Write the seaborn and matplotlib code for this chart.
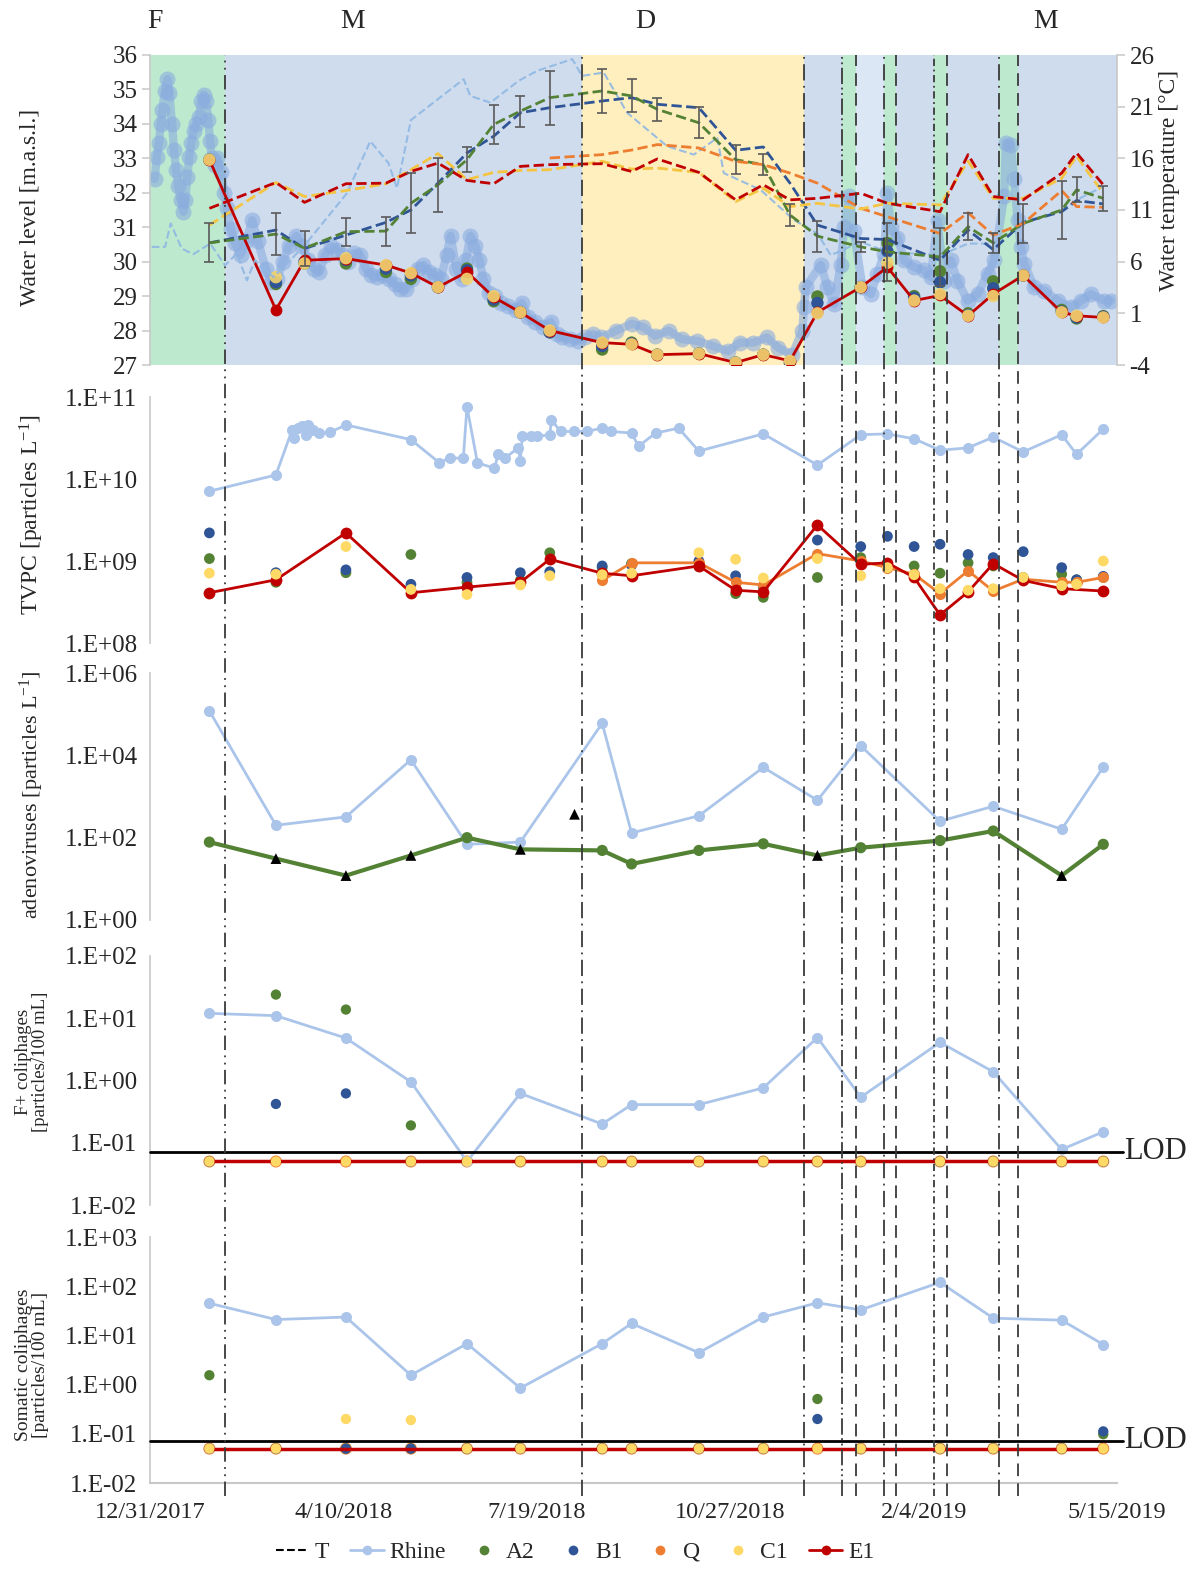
import numpy as np
import pandas as pd
import matplotlib
matplotlib.use("Agg")
import matplotlib.pyplot as plt
import seaborn as sns
from matplotlib.lines import Line2D
from matplotlib import transforms, ticker

sns.set_style("white")
plt.rcParams["font.family"] = ["Liberation Serif", "DejaVu Serif"]
plt.rcParams["mathtext.fontset"] = "custom"
plt.rcParams["mathtext.rm"] = "Liberation Serif"
plt.rcParams["mathtext.default"] = "regular"
plt.rcParams["axes.unicode_minus"] = False

START = pd.Timestamp("2017-12-31")   # all *_day values are days after this date

# ---------------- phases / boundaries ----------------
phase_labels = ["F", "M", "D", "M"]
phase_label_day = [2.5, 104.5, 256.0, 463.0]
main_spans = [(0.0, 38.8, "F"), (38.8, 223.6, "M"), (223.6, 338.2, "D"), (338.2, 500.0, "M"),
              (365.0, 379.6, "L"), (357.7, 365.0, "F"), (379.6, 385.6, "F"),
              (405.2, 411.9, "F"), (439.1, 448.6, "F")]
boundary_day = [38.8, 223.6, 338.2, 357.7, 365.0, 379.6, 385.6, 405.2, 411.9, 439.1, 448.6]

# ---------------- panel 1: Rhine water level (m a.s.l.) ----------------
rhine_lvl_day = [2.4, 3.6, 4.6, 5.6, 6.4, 7.6, 9.0, 10.0, 11.4, 12.4, 13.5, 14.5, 15.9, 17.3, 18.3, 19.3,
                 20.3, 21.3, 22.5, 23.9, 25.3, 26.5, 27.9, 29.1, 30.1, 31.1, 31.9, 33.5, 34.9, 36.9, 38.4,
                 39.8, 41.8, 43.8, 46.8, 49.8, 52.8, 55.8, 59.8, 62.8, 65.7, 68.7, 71.7, 75.7, 78.7, 81.7,
                 84.7, 87.6, 90.6, 93.6, 96.6, 99.6, 102.6, 105.6, 108.6, 111.6, 114.5, 117.5, 120.5, 123.5,
                 126.5, 129.5, 132.5, 135.5, 138.4, 141.4, 144.4, 147.4, 150.4, 153.4, 155.4, 158.4, 161.4,
                 163.3, 165.7, 168.3, 170.3, 172.3, 175.3, 178.3, 181.3, 185.3, 189.2, 192.2, 195.2, 199.2,
                 203.2, 207.2, 210.2, 213.2, 217.2, 221.1, 225.1, 229.1,
                 233.2, 241.2, 249.1, 255.1, 261.1, 268.1, 275.0, 283.0, 291.0, 299.0, 305.0, 311.9, 318.9,
                 324.9, 332.1, 337.3, 338.1, 339.0, 346.8, 350.3, 353.7, 357.1, 358.9, 361.4, 363.9, 368.4,
                 372.7, 376.1, 379.6, 381.3, 383.0, 386.5, 389.9, 395.1, 400.3, 403.7, 407.2, 410.6, 414.1,
                 417.5, 422.7, 427.9, 433.1, 436.5, 441.7, 442.5, 445.1, 446.8, 448.6, 450.3, 452.0, 457.2,
                 462.4, 469.3, 476.2, 481.4, 486.5, 493.4, 496.9]
rhine_lvl = [32.4, 33.05, 33.45, 34.0, 34.4, 34.95, 35.3, 34.9, 34.0, 33.25, 32.65, 32.2, 31.8, 31.45, 31.8, 32.45,
             33.05, 33.45, 33.8, 34.0, 34.2, 34.65, 34.85, 34.65, 34.1, 33.5, 33.0, 32.8, 33.0, 32.6, 32.0,
             31.55, 30.95, 30.55, 30.2, 30.6, 31.2, 30.6, 29.8, 29.4, 29.5, 30.0, 30.45, 30.75, 30.45, 30.05,
             29.8, 29.7, 30.2, 30.45, 30.35, 30.2, 30.0, 30.25, 30.2, 29.8, 29.6, 29.55, 29.6, 29.5,
             29.35, 29.2, 29.2, 29.5, 29.8, 29.9, 29.7, 29.6, 29.5, 30.2, 30.75, 29.8, 29.5,
             30.05, 30.75, 30.45, 30.05, 29.5, 29.1, 29.0, 28.8, 28.7, 28.6, 28.8, 28.4, 28.25,
             28.1, 28.25, 27.9, 27.8, 27.75, 27.7, 27.8, 27.9,
             27.8, 28.0, 28.2, 28.1, 27.85, 28.0, 27.75, 27.7, 27.55, 27.4, 27.65, 27.65, 27.8,
             27.5, 27.3, 28.0, 28.67, 29.26, 29.9, 29.26, 28.77, 29.9, 31.0, 31.9, 30.9, 29.26,
             29.06, 29.65, 30.23, 32.0, 31.0, 30.7, 30.04, 29.84, 29.75, 29.55, 31.2, 29.45, 30.04,
             29.45, 28.87, 29.06, 29.65, 30.04, 31.9, 33.45, 33.4, 32.4, 31.2, 30.43, 29.94, 29.26,
             29.16, 28.87, 28.67, 28.87, 29.06, 28.87, 28.87]

# water level at the sampling sites
lvl_day = [30.7, 65.1, 79.9, 101.3, 122.0, 134.9, 148.9, 163.9, 177.7, 191.5, 206.7, 233.8, 249.0, 262.3,
           283.8, 302.8, 317.1, 330.9, 345.1, 367.5, 381.3, 395.1, 408.5, 423.0, 436.0, 451.5, 471.4, 479.1, 492.9]
lvl_e1 = [32.96, 28.6, 30.04, 30.09, 29.9, 29.67, 29.26, 29.7, 28.97, 28.53, 28.0, 27.65, 27.6, 27.3, 27.33,
          27.07, 27.3, 27.12, 28.53, 29.26, 29.84, 28.87, 29.02, 28.43, 29.06, 29.6, 28.53, 28.43, 28.38]
lvl_a2 = [32.96, 29.35, 29.95, 29.95, 29.7, 29.5, 29.26, 29.8, 28.85, 28.53, 27.95, 27.45, 27.65, 27.3, 27.33,
          27.07, 27.3, 27.05, 28.99, 29.26, 30.54, 29.0, 29.72, 28.5, 29.43, 29.6, 28.6, 28.35, 28.42]
lvl_b1 = [32.96, 29.4, 30.0, 30.05, 29.8, 29.6, 29.26, 29.75, 28.9, 28.53, 27.95, 27.55, 27.62, 27.3, 27.33,
          27.07, 27.3, 27.08, 28.8, 29.26, 30.3, 28.95, 29.4, 28.45, 29.23, 29.6, 28.55, 28.38, 28.4]
lvl_c1 = [32.96, 29.55, 29.95, 30.1, 29.9, 29.67, 29.26, 29.5, 29.0, 28.53, 28.0, 27.65, 27.6, 27.3, 27.33,
          27.07, 27.3, 27.12, 28.5, 29.26, 29.97, 28.87, 29.06, 28.43, 29.0, 29.6, 28.53, 28.43, 28.38]

# water temperature (deg C)
temp_day = [30.7, 65.1, 79.9, 101.3, 122.0, 134.9, 148.9, 163.9, 177.7, 191.5, 206.7, 233.8, 249.0, 262.3,
            283.8, 302.8, 317.1, 330.9, 345.1, 367.5, 381.3, 408.5, 423.0, 436.0, 451.5, 471.4, 479.1, 492.9]
temp_e1 = [11.16, 13.66, 11.74, 13.54, 13.6, 14.73, 15.54, 13.86, 13.54, 15.22, 15.39, 15.48, 14.73, 15.94,
           14.64, 11.98, 13.44, 11.98, 12.13, 12.62, 11.65, 10.84, 16.36, 12.3, 11.98, 14.57, 16.52, 13.44]
temp_c1 = [9.54, 13.66, 12.3, 12.88, 13.54, 14.9, 16.46, 13.93, 14.64, 14.83, 14.9, 15.71, 14.96, 15.06,
           14.64, 11.81, 13.11, 11.33, 11.65, 11.1, 11.65, 11.49, 15.71, 12.13, 12.13, 14.08, 16.2, 12.62]
temp_b1 = [7.82, 9.06, 7.27, 8.57, 9.8, 11.0, 13.6, 16.52, 18.14, 20.41, 20.9, 21.55, 21.87, 21.23,
           20.9, 16.78, 17.1, 13.6, 9.54, 8.24, 8.14, 6.14, 9.06, 7.17, 9.8, 10.84, 11.91, 11.59]
temp_a2 = [7.82, 8.67, 7.3, 8.9, 8.96, 11.65, 13.44, 15.87, 19.28, 20.57, 21.87, 22.52, 22.04, 20.74,
           19.44, 15.87, 15.39, 10.52, 8.47, 7.43, 6.95, 6.46, 9.38, 7.82, 9.7, 11.0, 12.95, 12.13]
temp_a2_err = [1.9, 2.0, 1.7, 1.35, 1.4, 2.9, 2.6, 1.2, 1.9, 1.5, 2.6, 2.1, 1.6, 1.1,
               1.5, 1.4, 1.0, 1.1, 1.5, 0.5, 2.8, 2.8, 1.3, 1.0, 1.9, 2.8, 1.2, 1.2]
temp_q_day = [206.7, 233.8, 249.0, 262.3, 283.8, 302.8, 317.1, 330.9, 345.1, 367.5, 381.3, 408.5, 423.0,
              436.0, 451.5, 471.4, 479.1, 492.9]
temp_q = [16.03, 16.36, 16.8, 17.33, 17.0, 15.71, 15.39, 14.57, 13.6, 11.16, 10.35, 8.73, 10.74,
          8.57, 9.7, 12.88, 11.33, 11.26]
temp_rhine_day = [0.9, 4.3, 7.8, 10.7, 16.4, 22.4, 31.1, 38.8, 44.9, 50.1, 54.3, 63.8, 79.3, 101.8, 113.9,
                  123.3, 127.7, 134.9, 162.2, 165.6, 176.0, 190.6, 200.2, 218.3, 223.4, 234.6, 246.7, 267.4,
                  281.2, 293.3, 296.7, 315.7, 333.0, 345.1, 352.0, 367.5, 381.3, 408.5, 423.0, 436.0, 451.5,
                  471.4, 479.1, 492.9]
temp_rhine = [7.43, 7.43, 7.43, 9.7, 7.27, 6.72, 7.75, 5.65, 6.78, 4.19, 6.14, 4.51, 7.43, 12.62, 17.66,
              15.54, 13.11, 19.7, 23.66, 22.04, 21.39, 23.5, 24.47, 25.6, 23.98, 24.3, 20.41, 17.17,
              16.36, 17.98, 14.57, 12.95, 10.03, 8.73, 6.62, 7.92, 6.95, 6.62, 7.75, 7.75, 9.7,
              11.0, 11.98, 13.27]

# ---------------- panel 2: TVPC (particles/L) ----------------
tvpc_day = [30.7, 65.1, 101.3, 134.9, 163.9, 191.5, 206.7, 233.8, 249.0, 283.8, 302.8, 317.1, 345.1, 367.5,
            381.3, 395.1, 408.5, 423.0, 436.0, 451.5, 471.4, 479.1, 492.9]
tvpc_e1 = [4.1e8, 5.9e8, 2.2e9, 4.1e8, 4.8e8, 5.5e8, 1.05e9, 7.1e8, 6.6e8, 8.7e8, 4.4e8, 4.2e8, 2.75e9, 9.1e8,
           9.5e8, 6.3e8, 2.2e8, 4.2e8, 9.3e8, 5.8e8, 4.6e8, np.nan, 4.3e8]
tvpc_q = [np.nan] * 7 + [5.8e8, 9.5e8, 9.5e8, 5.5e8, 5.1e8, 1.23e9, 1.0e9, 8.3e8, 6.9e8, 4.0e8, 7.6e8, 4.3e8,
                         6.0e8, 5.5e8, 5.5e8, 6.3e8]
tvpc_a2 = [1.07e9, 5.5e8, 7.2e8, 1.2e9, 5.5e8, 5.8e8, 1.26e9, 8.3e8, 9.3e8, 8.5e8, 4.0e8, 3.6e8, 6.3e8, 1.1e9,
           8.9e8, 8.7e8, 7.1e8, 9.5e8, 8.7e8, 6.3e8, 6.9e8, 5.9e8, 6.3e8]
tvpc_b1 = [2.2e9, 7.2e8, 7.8e8, 5.2e8, 6.3e8, 7.2e8, 7.4e8, 8.7e8, 8.9e8, 1.0e9, 6.6e8, 4.8e8, 1.8e9, 1.5e9,
           2.0e9, 1.5e9, 1.6e9, 1.2e9, 1.1e9, 1.3e9, 8.3e8, 5.9e8, 6.5e8]
tvpc_c1 = [7.1e8, 6.9e8, 1.5e9, 4.5e8, 3.9e8, 5.1e8, 6.6e8, 6.8e8, 7.1e8, 1.26e9, 1.05e9, 6.2e8, 1.07e9, 6.6e8,
           8.3e8, 6.8e8, 4.6e8, 4.4e8, 4.6e8, 6.3e8, 5.0e8, 5.2e8, 1.0e9]
tvpc_rhine_day = [30.7, 65.1, 73.5, 74.5, 76.6, 78.7, 80.7, 81.8, 84.4, 87.5, 93.2, 101.3, 134.9, 149.6, 155.3,
                  162.0, 163.9, 169.3, 178.1, 180.1, 183.7, 190.5, 191.5, 192.5, 197.2, 200.3, 206.7, 207.6,
                  212.3, 219.0, 225.7, 233.8, 238.6, 249.0, 252.6, 261.4, 273.3, 283.8, 317.1, 345.1, 367.5,
                  381.3, 395.1, 408.5, 423.0, 436.0, 451.5, 471.4, 479.1, 492.9]
tvpc_rhine = [7.1e9, 1.12e10, 3.98e10, 3.16e10, 4.17e10, 4.37e10, 3.47e10, 4.57e10, 3.98e10, 3.63e10, 3.72e10,
              4.57e10, 3.02e10, 1.58e10, 1.82e10, 1.78e10, 7.59e10, 1.58e10, 1.35e10, 2.04e10, 1.82e10, 2.4e10,
              1.66e10, 3.39e10, 3.31e10, 3.31e10, 3.47e10, 5.25e10, 3.8e10, 3.8e10, 3.8e10, 4.17e10, 3.8e10,
              3.63e10, 2.51e10, 3.63e10, 4.17e10, 2.19e10, 3.55e10, 1.48e10, 3.47e10, 3.55e10, 3.09e10,
              2.24e10, 2.4e10, 3.24e10, 2.14e10, 3.47e10, 2.0e10, 4.07e10]

# ---------------- panels 3-5 (16 sampling campaigns) ----------------
sample_day = [30.7, 65.1, 101.3, 134.9, 163.9, 191.5, 233.8, 249.0, 283.8, 317.1, 345.1, 367.5, 408.5, 436.0,
              471.4, 492.9]
adeno_rhine = [1.2e5, 200, 320, 7.8e3, 69, 78, 6.0e4, 130, 340, 5.1e3, 810, 1.7e4, 250, 580, 160, 5.2e3]
adeno_a2 = [78, 31, 12, 37, 100, 52, 49, 23, 49, 71, 37, 57, 85, 145, 12, 69]
adeno_a2_below_loq = [False, True, True, True, False, True, False, False, False, False, True, False, False,
                      False, True, False]
adeno_extra_day = [219.5]
adeno_extra = [370]

LOD = 0.072
fplus_rhine = [12, 11, 4.8, 0.95, 0.05, 0.62, 0.2, 0.41, 0.41, 0.76, 4.9, 0.54, 4.1, 1.38, 0.078, 0.15]
fplus_a2 = [0.05, 24, 13.8, 0.19, 0.05, 0.05, 0.05, 0.05, 0.05, 0.05, 0.05, 0.05, 0.05, 0.05, 0.05, 0.05]
fplus_b1 = [0.05, 0.42, 0.62, 0.05, 0.05, 0.05, 0.05, 0.05, 0.05, 0.05, 0.05, 0.05, 0.05, 0.05, 0.05, 0.05]
fplus_q = [0.05] * 16
fplus_c1 = [0.05] * 16
fplus_e1 = [0.05] * 16

som_rhine = [45, 21, 23.6, 1.55, 6.8, 0.85, 6.8, 17.5, 4.45, 23.6, 46, 33, 120, 22.4, 20.4, 6.5]
som_a2 = [1.55, 0.05, 0.05, 0.05, 0.05, 0.05, 0.05, 0.05, 0.05, 0.05, 0.51, 0.05, 0.05, 0.05, 0.05, 0.098]
som_b1 = [0.05, 0.05, 0.05, 0.05, 0.05, 0.05, 0.05, 0.05, 0.05, 0.05, 0.2, 0.05, 0.05, 0.05, 0.05, 0.112]
som_q = [0.05] * 16
som_c1 = [0.05, 0.05, 0.2, 0.19, 0.05, 0.05, 0.05, 0.05, 0.05, 0.05, 0.05, 0.05, 0.05, 0.05, 0.05, 0.05]
som_e1 = [0.05] * 16

xtick_day = [0, 100, 200, 300, 400, 500]

# ---------------- styling ----------------
C_RHINE = "#abc5ea"
C_LVL = "#8aacdf"
C_RT = "#8fb8e3"
C_A2 = "#548235"
C_B1 = "#2f5597"
C_Q = "#ed7d31"
C_C1 = "#ffd966"
C_E1 = "#c00000"
SPAN_COL = {"F": "#bde9cf", "M": "#cfdcee", "D": "#ffefbf", "L": "#dce7f5"}
GRID_GRAY = "#c8c8c8"

W, H = 1200, 1569
fig = plt.figure(figsize=(W / 100, H / 100), dpi=100)


def axes_px(top, bottom, left=150, right=1117):
    return fig.add_axes([left / W, 1 - bottom / H, (right - left) / W, (bottom - top) / H])


def line(ax, x, y, **kw):
    df = pd.DataFrame({"x": x, "y": y}).dropna()
    sns.lineplot(data=df, x="x", y="y", ax=ax, estimator=None, sort=False, legend=False, **kw)


def dots(ax, x, y, color, s=55, **kw):
    df = pd.DataFrame({"x": x, "y": y}).dropna()
    sns.scatterplot(data=df, x="x", y="y", ax=ax, color=color, s=s, edgecolor="none",
                    linewidth=0, legend=False, **kw)


def sci_fmt(v, pos):
    e = int(round(np.log10(v)))
    return f"1.E{e:+03d}"


def style_left(ax):
    for sp in ["top", "right", "bottom"]:
        ax.spines[sp].set_visible(False)
    ax.spines["left"].set_color(GRID_GRAY)
    ax.spines["left"].set_linewidth(1.2)
    ax.tick_params(axis="y", which="major", direction="out", length=6, width=1.1, color=GRID_GRAY,
                   labelsize=18, pad=3)
    ax.tick_params(axis="y", which="minor", length=0)
    ax.tick_params(axis="x", length=0, labelbottom=False)
    ax.set_xlim(0, 500)
    ax.set_xlabel("")
    ax.set_ylabel("")


# ================= Panel 1 =================
ax1 = axes_px(55, 365)
ax1.set_xlim(0, 500)
ax1.set_ylim(27, 36)
for a, b, k in main_spans:
    ax1.axvspan(a, b, color=SPAN_COL[k], lw=0, zorder=0)
line(ax1, rhine_lvl_day, rhine_lvl, color=C_LVL, alpha=0.6, linewidth=6, marker="o", markersize=11.5,
     markeredgewidth=0, solid_capstyle="round", solid_joinstyle="round")
dots(ax1, lvl_day, lvl_a2, C_A2, s=80, zorder=4)
dots(ax1, lvl_day, lvl_b1, C_B1, s=80, zorder=4)
line(ax1, lvl_day, lvl_e1, color=C_E1, linewidth=2, marker="o", markersize=8.5, markeredgewidth=0, zorder=5)
dots(ax1, lvl_day, lvl_c1, "#f0d270", s=80, zorder=6, alpha=0.92)
style_left(ax1)
ax1.set_yticks(range(27, 37))

ax1t = ax1.twinx()
ax1t.set_ylim(-4, 26)
line(ax1t, temp_rhine_day, temp_rhine, color=C_RT, linewidth=1.5, linestyle="--", alpha=0.9)
ax1t.errorbar(temp_day, temp_a2, yerr=temp_a2_err, fmt="none", ecolor="#5a5a5a", elinewidth=1.2,
              capsize=3.5, capthick=1.2, zorder=3)
line(ax1t, temp_day, temp_b1, color=C_B1, linewidth=2, linestyle="--")
line(ax1t, temp_day, temp_a2, color=C_A2, linewidth=2, linestyle="--")
line(ax1t, temp_q_day, temp_q, color=C_Q, linewidth=2, linestyle="--")
line(ax1t, temp_day, temp_c1, color="#f4c542", linewidth=2, linestyle="--")
line(ax1t, temp_day, temp_e1, color=C_E1, linewidth=2, linestyle="--")
ax1t.set_yticks(range(-4, 27, 5))
for sp in ["top", "left", "bottom"]:
    ax1t.spines[sp].set_visible(False)
ax1t.spines["right"].set_color(GRID_GRAY)
ax1t.spines["right"].set_linewidth(1.2)
ax1t.tick_params(axis="y", direction="out", length=6, width=1.1, color=GRID_GRAY, labelsize=18, pad=3)
ax1t.tick_params(axis="x", length=0, labelbottom=False)
ax1t.set_xlim(0, 500)
ax1t.set_ylabel("")
ax1t.set_xlabel("")

# ================= Panel 2: TVPC =================
ax2 = axes_px(397, 643)
ax2.set_yscale("log")
line(ax2, tvpc_rhine_day, tvpc_rhine, color=C_RHINE, linewidth=2, marker="o", markersize=8,
     markeredgewidth=0)
dots(ax2, tvpc_day, tvpc_a2, C_A2, s=60)
dots(ax2, tvpc_day, tvpc_b1, C_B1, s=60)
line(ax2, tvpc_day, tvpc_q, color=C_Q, linewidth=2, marker="o", markersize=8, markeredgewidth=0)
line(ax2, tvpc_day, tvpc_e1, color=C_E1, linewidth=2, marker="o", markersize=8.5, markeredgewidth=0)
dots(ax2, tvpc_day, tvpc_c1, C_C1, s=60, zorder=5)
ax2.set_ylim(1e8, 1e11)
ax2.set_yticks([1e8, 1e9, 1e10, 1e11])
style_left(ax2)

# ================= Panel 3: adenoviruses =================
ax3 = axes_px(673, 920)
ax3.set_yscale("log")
line(ax3, sample_day, adeno_rhine, color=C_RHINE, linewidth=2, marker="o", markersize=8,
     markeredgewidth=0)
line(ax3, sample_day, adeno_a2, color=C_A2, linewidth=3)
ok_x = [d for d, f in zip(sample_day, adeno_a2_below_loq) if not f]
ok_y = [v for v, f in zip(adeno_a2, adeno_a2_below_loq) if not f]
bl_x = [d for d, f in zip(sample_day, adeno_a2_below_loq) if f]
bl_y = [v for v, f in zip(adeno_a2, adeno_a2_below_loq) if f]
dots(ax3, ok_x, ok_y, C_A2, s=65, zorder=4)
sns.scatterplot(x=bl_x, y=bl_y, ax=ax3, color="black", marker="^", s=60, edgecolor="none", zorder=5,
                legend=False)
sns.scatterplot(x=adeno_extra_day, y=adeno_extra, ax=ax3, color="black", marker="^", s=60,
                edgecolor="none", zorder=5, legend=False)
ax3.set_ylim(1e0, 1e6)
ax3.set_yticks([1e0, 1e2, 1e4, 1e6])
style_left(ax3)

# ================= Panel 4: F+ coliphages =================
ax4 = axes_px(956, 1205)
ax4.set_yscale("log")
line(ax4, sample_day, fplus_rhine, color=C_RHINE, linewidth=2, marker="o", markersize=8,
     markeredgewidth=0)
dots(ax4, sample_day, fplus_q, C_Q, s=75)
dots(ax4, sample_day, fplus_a2, C_A2, s=55)
dots(ax4, sample_day, fplus_b1, C_B1, s=55)
line(ax4, sample_day, fplus_e1, color=C_E1, linewidth=2.5)
dots(ax4, sample_day, fplus_c1, C_C1, s=55, zorder=5)
ax4.set_ylim(1e-2, 1e2)
ax4.set_yticks([1e-2, 1e-1, 1e0, 1e1, 1e2])
style_left(ax4)

# ================= Panel 5: somatic coliphages =================
ax5 = axes_px(1237, 1483)
ax5.set_yscale("log")
line(ax5, sample_day, som_rhine, color=C_RHINE, linewidth=2, marker="o", markersize=8,
     markeredgewidth=0)
dots(ax5, sample_day, som_q, C_Q, s=75)
dots(ax5, sample_day, som_a2, C_A2, s=55)
dots(ax5, sample_day, som_b1, C_B1, s=55)
line(ax5, sample_day, som_e1, color=C_E1, linewidth=2.5)
dots(ax5, sample_day, som_c1, C_C1, s=55, zorder=5)
ax5.set_ylim(1e-2, 1e3)
ax5.set_yticks([1e-2, 1e-1, 1e0, 1e1, 1e2, 1e3])
style_left(ax5)
ax5.spines["bottom"].set_visible(True)
ax5.spines["bottom"].set_color(GRID_GRAY)
ax5.spines["bottom"].set_linewidth(1.5)
ax5.set_xticks(xtick_day)
ax5.set_xticklabels([f"{t.month}/{t.day}/{t.year}" for t in
                     (START + pd.to_timedelta(xtick_day, unit="D"))])
ax5.tick_params(axis="x", length=0, labelbottom=True, labelsize=17.5, pad=14)

for ax in (ax2, ax3, ax4, ax5):
    ax.yaxis.set_major_formatter(ticker.FuncFormatter(sci_fmt))
    ax.yaxis.set_minor_locator(ticker.NullLocator())

# LOD lines
for ax in (ax4, ax5):
    ax.plot([0, 503], [LOD, LOD], color="black", linewidth=2, clip_on=False, zorder=6)
    tr = transforms.blended_transform_factory(ax.transAxes, ax.transData)
    ax.text(1.007, LOD, "LOD", transform=tr, ha="left", va="center", fontsize=22)

# vertical boundary lines through all panels
trans = transforms.blended_transform_factory(ax5.transData, fig.transFigure)
styles = [(0, (8, 3, 1, 3, 1, 3)), (0, (9, 3, 1, 3)), (0, (9, 3, 1, 3)), (0, (9, 2, 1, 2, 1, 2)),
          (0, (7, 4)), (0, (9, 3, 1, 3)), (0, (7, 4)), (0, (4, 2, 1, 2)), (0, (7, 4)),
          (0, (9, 3, 1, 3)), (0, (7, 4))]
for d, ls in zip(boundary_day, styles):
    fig.add_artist(Line2D([d, d], [1 - 1496 / H, 1 - 55 / H], transform=trans, color="#3a3a3a",
                          linewidth=1.3, linestyle=ls, zorder=10))

# phase labels
tr_top = transforms.blended_transform_factory(ax1.transData, fig.transFigure)
for lab, d in zip(phase_labels, phase_label_day):
    fig.text(d, 1 - 22 / H, lab, transform=tr_top, ha="center", va="center", fontsize=20)

# axis titles
fig.text(30 / W, 1 - 207 / H, "Water level [m.a.s.l.]", rotation=90, ha="center", va="center", fontsize=17)
fig.text(1170 / W, 1 - 180 / H, "Water temperature [°C]", rotation=90, ha="center", va="center",
         fontsize=17)
fig.text(32 / W, 1 - 515 / H, "TVPC [particles L$^{-1}$]", rotation=90, ha="center", va="center",
         fontsize=17)
fig.text(32 / W, 1 - 795 / H, "adenoviruses [particles L$^{-1}$]", rotation=90, ha="center", va="center",
         fontsize=16)
fig.text(32 / W, 1 - 1062 / H, "F+ coliphages\n[particles/100 mL]", rotation=90, ha="center",
         va="center", fontsize=13.5, linespacing=1.0)
fig.text(32 / W, 1 - 1365 / H, "Somatic coliphages\n[particles/100 mL]", rotation=90, ha="center",
         va="center", fontsize=14, linespacing=1.0)

# legend
handles = [
    Line2D([], [], color="black", linestyle="--", linewidth=1.5, label="T"),
    Line2D([], [], color=C_RHINE, linewidth=2, marker="o", markersize=7, markeredgewidth=0, label="Rhine"),
    Line2D([], [], color=C_A2, linestyle="none", marker="o", markersize=7, markeredgewidth=0, label="A2"),
    Line2D([], [], color=C_B1, linestyle="none", marker="o", markersize=7, markeredgewidth=0, label="B1"),
    Line2D([], [], color=C_Q, linestyle="none", marker="o", markersize=7, markeredgewidth=0, label="Q"),
    Line2D([], [], color=C_C1, linestyle="none", marker="o", markersize=7, markeredgewidth=0, label="C1"),
    Line2D([], [], color=C_E1, linewidth=2, marker="o", markersize=7, markeredgewidth=0, label="E1"),
]
fig.legend(handles=handles, loc="center", bbox_to_anchor=(575 / W, 1 - 1552 / H), ncol=7, frameon=False,
           fontsize=17, handlelength=1.4, columnspacing=0.9, handletextpad=0.25)

fig.savefig("out.png", dpi=100)
